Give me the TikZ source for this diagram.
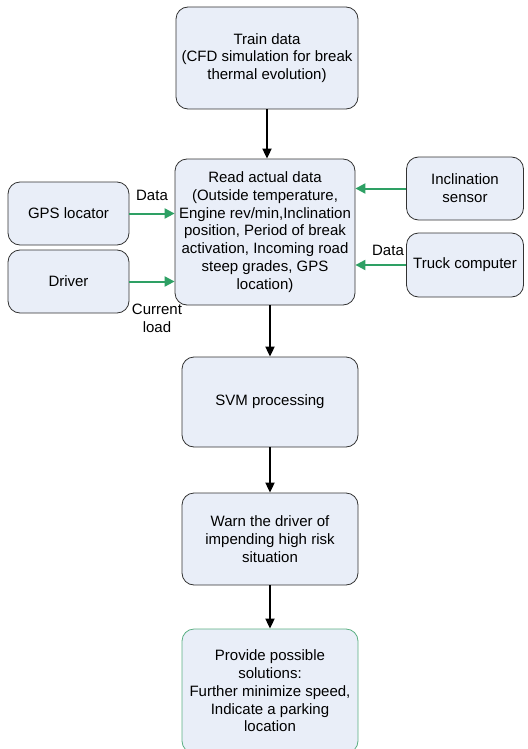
\documentclass[tikz,border=0pt]{standalone}
\usepackage{fontspec}
\setmainfont{Liberation Sans}
\usetikzlibrary{arrows.meta}
\definecolor{boxfill}{RGB}{233,238,248}
\definecolor{boxline}{RGB}{50,50,50}
\definecolor{flowgreen}{RGB}{46,160,100}
\definecolor{endline}{RGB}{90,175,130}
\tikzset{
    stepbox/.style={draw=boxline,fill=boxfill,rounded corners=12pt,line width=0.8pt,
        align=center,inner sep=1pt,font=\fontsize{15}{17.8}\selectfont},
    endbox/.style={stepbox,draw=endline},
    flow/.style={-{Triangle[length=10pt,width=9pt]},line width=1.8pt,black},
    feed/.style={-{Triangle[length=10pt,width=10pt]},line width=2pt,flowgreen},
    tag/.style={align=center,font=\fontsize{15}{17.8}\selectfont}
}

\begin{document}
\begin{tikzpicture}[x=1pt,y=-1pt]
    \useasboundingbox (0,0) rectangle (527,749);
    % Main column
    \node[stepbox,minimum width=182pt,minimum height=102pt] (train) at (267,58)
        {Train data\\(CFD simulation for break\\thermal evolution)};
    \node[stepbox,minimum width=180pt,minimum height=146pt] (read) at (265,232)
        {Read actual data\\(Outside temperature,\\Engine rev/min,Inclination\\position, Period of break\\activation, Incoming road\\steep grades, GPS\\location)};
    \node[stepbox,minimum width=176pt,minimum height=90pt] (svm) at (270,402) {SVM processing};
    \node[stepbox,minimum width=176pt,minimum height=92pt] (warn) at (270,539)
        {Warn the driver of\\impending high risk\\situation};
    \node[endbox,minimum width=176pt,minimum height=124pt] (sol) at (270,691)
        {Provide possible\\solutions:\\Further minimize speed,\\Indicate a parking\\location};
    % Inputs on the left
    \node[stepbox,minimum width=121pt,minimum height=63pt] (gps) at (68.5,213.5) {GPS locator};
    \node[stepbox,minimum width=121pt,minimum height=63pt] (driver) at (68.5,281.5) {Driver};
    % Inputs on the right
    \node[stepbox,minimum width=117pt,minimum height=63pt] (incl) at (465,188.5) {Inclination\\sensor};
    \node[stepbox,minimum width=117pt,minimum height=64pt] (truck) at (465,265) {Truck computer};
    % Flow down the column
    \draw[flow] (train.south) -- (read.north -| train.south);
    \draw[flow] (read.south -| svm.north) -- (svm.north);
    \draw[flow] (svm.south) -- (warn.north);
    \draw[flow] (warn.south) -- (sol.north);
    % Data feeds
    \draw[feed] (gps.east) -- (read.west |- gps.east);
    \draw[feed] (driver.east) -- (read.west |- driver.east);
    \draw[feed] (incl.west) -- (read.east |- incl.west);
    \draw[feed] (truck.west) -- (read.east |- truck.west);
    \node[tag] (gpstag) at (152,195) {Data};
    \node[tag] (loadtag) at (157,318) {Current\\load};
    \node[tag] (trucktag) at (388,250) {Data};
\end{tikzpicture}
\end{document}
